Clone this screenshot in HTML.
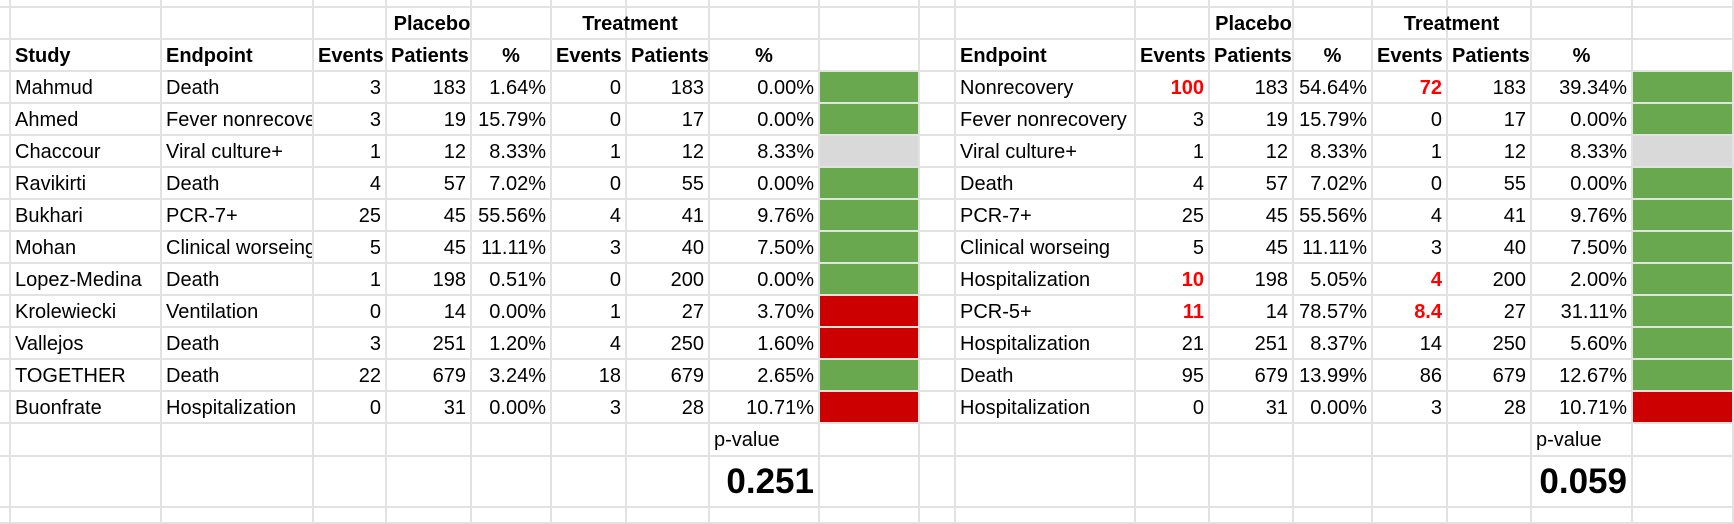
<!DOCTYPE html>
<html><head><meta charset="utf-8"><style>
html,body{margin:0;padding:0;background:#fff;}
#sheet{position:relative;width:1734px;height:524px;overflow:hidden;background:#fff;font-family:"Liberation Sans",Arial,sans-serif;font-size:20px;color:#000;}
.c{position:absolute;box-sizing:border-box;border-right:2px solid #e2e2e2;border-bottom:2px solid #e2e2e2;white-space:nowrap;overflow:hidden;line-height:30px;padding:1px 4px 0 4px;}
.r{text-align:right;}
.ctr{text-align:center;}
.b{font-weight:bold;}
.red{color:#ff0000;font-weight:bold;}
</style></head><body>
<div id="sheet"></div>
<script>
const colX=[0,11,162,314,387,472,552,627,710,820,920,956,1136,1210,1294,1373,1448,1532,1633,1734];
const rowY=[0,8,40,72,104,136,168,200,232,264,296,328,360,392,424,457,508,524];
const studies=["Mahmud","Ahmed","Chaccour","Ravikirti","Bukhari","Mohan","Lopez-Medina","Krolewiecki","Vallejos","TOGETHER","Buonfrate"];
const leftEndpoints=["Death","Fever nonrecovery","Viral culture+","Death","PCR-7+","Clinical worseing","Death","Ventilation","Death","Death","Hospitalization"];
const leftPlaceboEvents=["3","3","1","4","25","5","1","0","3","22","0"];
const leftPlaceboPatients=["183","19","12","57","45","45","198","14","251","679","31"];
const leftPlaceboPct=["1.64%","15.79%","8.33%","7.02%","55.56%","11.11%","0.51%","0.00%","1.20%","3.24%","0.00%"];
const leftTreatEvents=["0","0","1","0","4","3","0","1","4","18","3"];
const leftTreatPatients=["183","17","12","55","41","40","200","27","250","679","28"];
const leftTreatPct=["0.00%","0.00%","8.33%","0.00%","9.76%","7.50%","0.00%","3.70%","1.60%","2.65%","10.71%"];
const leftOutcome=["g","g","n","g","g","g","g","r","r","g","r"];
const rightEndpoints=["Nonrecovery","Fever nonrecovery","Viral culture+","Death","PCR-7+","Clinical worseing","Hospitalization","PCR-5+","Hospitalization","Death","Hospitalization"];
const rightPlaceboEvents=["100","3","1","4","25","5","10","11","21","95","0"];
const rightPlaceboPatients=["183","19","12","57","45","45","198","14","251","679","31"];
const rightPlaceboPct=["54.64%","15.79%","8.33%","7.02%","55.56%","11.11%","5.05%","78.57%","8.37%","13.99%","0.00%"];
const rightTreatEvents=["72","0","1","0","4","3","4","8.4","14","86","3"];
const rightTreatPatients=["183","17","12","55","41","40","200","27","250","679","28"];
const rightTreatPct=["39.34%","0.00%","8.33%","0.00%","9.76%","7.50%","2.00%","31.11%","5.60%","12.67%","10.71%"];
const rightOutcome=["g","g","n","g","g","g","g","g","g","g","r"];
const rightHighlight=[true,false,false,false,false,false,true,true,false,false,false];
const pValues=["0.251","0.059"];
const colors={g:"#6aa84f",r:"#cc0000",n:"#d9d9d9"};

const sheet=document.getElementById('sheet');
function cell(c0,c1,r,text,cls,name,bg,style){
  const d=document.createElement('div');
  d.className='c '+(cls||'');
  d.style.left=colX[c0]+'px';
  d.style.width=(colX[c1]-colX[c0])+'px';
  d.style.top=rowY[r]+'px';
  d.style.height=(rowY[r+1]-rowY[r])+'px';
  if(bg)d.style.background=bg;
  if(style)Object.assign(d.style,style);
  d.textContent=text||'';
  
  
  sheet.appendChild(d);
  return d;
}
// blank grid everywhere
for(let r=0;r<rowY.length-1;r++){for(let c=0;c<colX.length-1;c++){cell(c,c+1,r,'','', 'grid-cell');}}
// left headers
cell(3,6,1,'Placebo','ctr b','left-placebo-header');
cell(6,8,1,'Treatment','ctr b','left-treatment-header');
const hdr=[['Study',''],['Endpoint',''],['Events','ctr'],['Patients','ctr'],['%','ctr'],['Events','ctr'],['Patients','ctr'],['%','ctr']];
hdr.forEach((h,i)=>cell(1+i,2+i,2,h[0],'b '+h[1],'left-column-header'));
cell(12,15,1,'Placebo','ctr b','right-placebo-header');
cell(15,17,1,'Treatment','ctr b','right-treatment-header');
hdr.slice(1).forEach((h,i)=>cell(11+i,12+i,2,h[0],'b '+h[1],'right-column-header'));
for(let i=0;i<studies.length;i++){
  const r=3+i;
  cell(1,2,r,studies[i],'','study-name');
  cell(2,3,r,leftEndpoints[i],'','left-endpoint');
  cell(3,4,r,leftPlaceboEvents[i],'r','left-placebo-events');
  cell(4,5,r,leftPlaceboPatients[i],'r','left-placebo-patients');
  cell(5,6,r,leftPlaceboPct[i],'r','left-placebo-percent');
  cell(6,7,r,leftTreatEvents[i],'r','left-treatment-events');
  cell(7,8,r,leftTreatPatients[i],'r','left-treatment-patients');
  cell(8,9,r,leftTreatPct[i],'r','left-treatment-percent');
  cell(9,10,r,'','','left-outcome-indicator',colors[leftOutcome[i]]);
  cell(11,12,r,rightEndpoints[i],'','right-endpoint');
  cell(12,13,r,rightPlaceboEvents[i],'r'+(rightHighlight[i]?' red':''),'right-placebo-events');
  cell(13,14,r,rightPlaceboPatients[i],'r','right-placebo-patients');
  cell(14,15,r,rightPlaceboPct[i],'r','right-placebo-percent');
  cell(15,16,r,rightTreatEvents[i],'r'+(rightHighlight[i]?' red':''),'right-treatment-events');
  cell(16,17,r,rightTreatPatients[i],'r','right-treatment-patients');
  cell(17,18,r,rightTreatPct[i],'r','right-treatment-percent');
  cell(18,19,r,'','','right-outcome-indicator',colors[rightOutcome[i]]);
}
cell(8,9,14,'p-value','','left-p-value-label');
cell(8,9,15,pValues[0],'r b','left-p-value',null,{fontSize:'35px',lineHeight:'48px'});
cell(17,18,14,'p-value','','right-p-value-label');
cell(17,18,15,pValues[1],'r b','right-p-value',null,{fontSize:'35px',lineHeight:'48px'});
</script>
</body></html>
